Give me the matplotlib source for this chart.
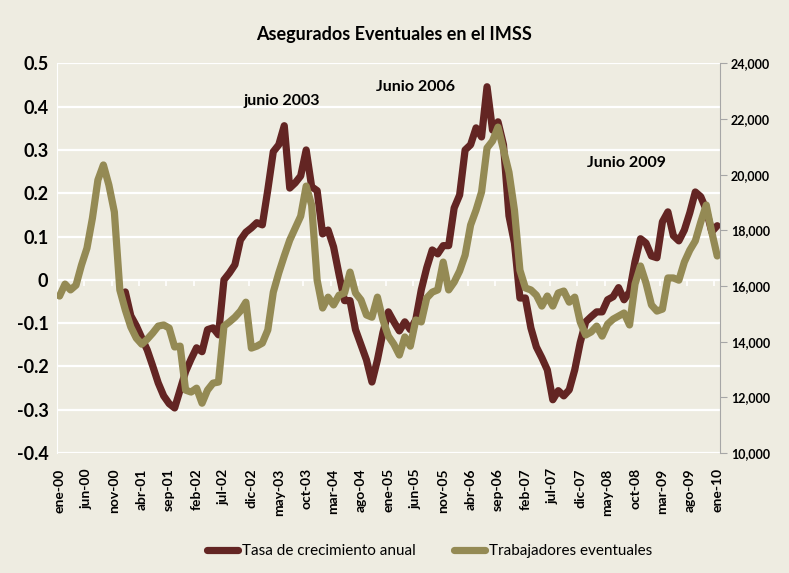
import numpy as np
import matplotlib.pyplot as plt
from matplotlib.ticker import FuncFormatter

# Etiquetas del eje de categorias (cada 5 meses, ene-00 a ene-10)
etiquetas = ['ene-00', 'jun-00', 'nov-00', 'abr-01', 'sep-01', 'feb-02', 'jul-02',
             'dic-02', 'may-03', 'oct-03', 'mar-04', 'ago-04', 'ene-05', 'jun-05',
             'nov-05', 'abr-06', 'sep-06', 'feb-07', 'jul-07', 'dic-07', 'may-08',
             'oct-08', 'mar-09', 'ago-09', 'ene-10']

# Trabajadores eventuales (eje derecho), mensual ene-00 .. ene-10
trabajadores = [15640, 16070, 15860, 16030, 16750, 17360, 18440, 19810, 20350, 19630,
                18660, 15860, 15140, 14530, 14130, 13910, 14090, 14310, 14560, 14600,
                14490, 13810, 13840, 12260, 12190, 12330, 11790, 12260, 12510, 12550,
                14560, 14710, 14880, 15100, 15420, 13770, 13840, 13950, 14420, 15780,
                16470, 17080, 17650, 18080, 18510, 19590, 18910, 16210, 15210, 15600,
                15320, 15670, 15750, 16500, 15750, 15500, 14960, 14880, 15600, 14780,
                14200, 13910, 13520, 14170, 13840, 14780, 14710, 15570, 15780, 15860,
                16860, 15860, 16140, 16540, 17110, 18190, 18730, 19380, 20960, 21210,
                21710, 20890, 20090, 18730, 16570, 15930, 15860, 15670, 15280, 15640,
                15280, 15750, 15820, 15420, 15600, 14710, 14240, 14350, 14560, 14200,
                14630, 14810, 14920, 15030, 14600, 16070, 16720, 16110, 15320, 15100,
                15170, 16290, 16290, 16210, 16860, 17290, 17620, 18300, 18910, 17940,
                17080]

# Tasa de crecimiento anual (eje izquierdo), mensual ene-01 .. ene-10
tasa = [-0.028, -0.083, -0.106, -0.134, -0.162, -0.199, -0.238, -0.268, -0.286, -0.296,
        -0.254, -0.212, -0.183, -0.157, -0.166, -0.115, -0.111, -0.127, 0.0, 0.016,
        0.035, 0.092, 0.11, 0.12, 0.132, 0.127, 0.208, 0.296, 0.312, 0.356,
        0.212, 0.224, 0.24, 0.30, 0.215, 0.206, 0.106, 0.115, 0.076, 0.012,
        -0.048, -0.048, -0.115, -0.15, -0.185, -0.236, -0.185, -0.122, -0.074, -0.097,
        -0.118, -0.097, -0.115, -0.092, -0.023, 0.028, 0.069, 0.06, 0.079, 0.079,
        0.166, 0.196, 0.30, 0.312, 0.351, 0.33, 0.446, 0.346, 0.365, 0.312,
        0.148, 0.085, -0.042, -0.042, -0.111, -0.155, -0.18, -0.208, -0.277, -0.256,
        -0.268, -0.254, -0.208, -0.145, -0.097, -0.085, -0.074, -0.074, -0.046, -0.039,
        -0.018, -0.046, -0.028, 0.042, 0.095, 0.085, 0.055, 0.051, 0.134, 0.157,
        0.102, 0.09, 0.115, 0.155, 0.203, 0.192, 0.162, 0.111, 0.125]

x_trab = np.arange(len(trabajadores))
x_tasa = np.arange(len(trabajadores) - len(tasa), len(trabajadores))

fondo = '#EEECE1'
granate = '#632523'
oliva = '#948A54'
fuente = ['Lato', 'DejaVu Sans']

fig = plt.figure(figsize=(7.89, 5.73), dpi=100, facecolor=fondo)
ax = fig.add_axes([0.072, 0.2094, 0.8405, 0.68])
ax.set_facecolor(fondo)

l1, = ax.plot(x_tasa, tasa, color=granate, lw=5.2, solid_joinstyle='round',
              solid_capstyle='round', label='Tasa de crecimiento anual')
ax.set_xlim(-0.5, len(trabajadores) - 0.5)
ax.set_ylim(-0.4, 0.5)
ax.set_yticks(np.arange(-0.4, 0.51, 0.1))
ax.set_yticklabels(['-0.4', '-0.3', '-0.2', '-0.1', '0', '0.1', '0.2', '0.3', '0.4', '0.5'])
ax.yaxis.grid(True, color='white', lw=1.6)
ax.set_axisbelow(True)
for s in ['top', 'bottom', 'right']:
    ax.spines[s].set_visible(False)
ax.spines['left'].set_color('white')
ax.tick_params(axis='y', length=0, pad=6, labelsize=13)
for t in ax.get_yticklabels():
    t.set_fontweight('bold')
    t.set_family(fuente)

ax.set_xticks(np.arange(0, len(trabajadores), 5))
ax.set_xticklabels(etiquetas, rotation=90, fontsize=10, fontweight='bold', family=fuente)
ax.tick_params(axis='x', length=0, pad=11)

# marcas del eje horizontal, que cruza en 0
eje0 = ax.secondary_xaxis(0.4 / 0.9)
eje0.set_xticks(np.arange(4.5, len(trabajadores) - 1, 5))
eje0.tick_params(axis='x', length=4, width=1.2, color='white', labelbottom=False)
eje0.spines['bottom'].set_color('white')

ax2 = ax.twinx()
l2, = ax2.plot(x_trab, trabajadores, color=oliva, lw=5.2, solid_joinstyle='round',
               solid_capstyle='round', label='Trabajadores eventuales')
ax2.set_ylim(10000, 24000)
ax2.set_yticks(np.arange(10000, 24001, 2000))
ax2.yaxis.set_major_formatter(FuncFormatter(lambda v, p: f'{v:,.0f}'))
for s in ['top', 'bottom', 'left']:
    ax2.spines[s].set_visible(False)
ax2.spines['right'].set_color('#A6A6A6')
ax2.tick_params(axis='y', length=5, color='#A6A6A6', pad=3, labelsize=9)
for t in ax2.get_yticklabels():
    t.set_fontweight('bold')
    t.set_family(fuente)

fig.text(0.5, 0.94, 'Asegurados Eventuales en el IMSS', ha='center', va='center',
         fontsize=13, fontweight='bold', family=fuente)

ax.text(40.5, 0.413, 'junio 2003', ha='center', va='center', fontsize=11.5,
        fontweight='bold', family=fuente)
ax.text(65, 0.446, 'Junio 2006', ha='center', va='center', fontsize=11.5,
        fontweight='bold', family=fuente)
ax.text(103.5, 0.27, 'Junio 2009', ha='center', va='center', fontsize=11.5,
        fontweight='bold', family=fuente)

fig.legend([l1, l2], [l1.get_label(), l2.get_label()], loc='center',
           bbox_to_anchor=(0.545, 0.038), ncol=2, frameon=False,
           prop={'family': fuente, 'size': 11}, handlelength=2.0,
           columnspacing=2.5, handletextpad=0.3)

fig.savefig('out.png', dpi=100, facecolor=fondo)
